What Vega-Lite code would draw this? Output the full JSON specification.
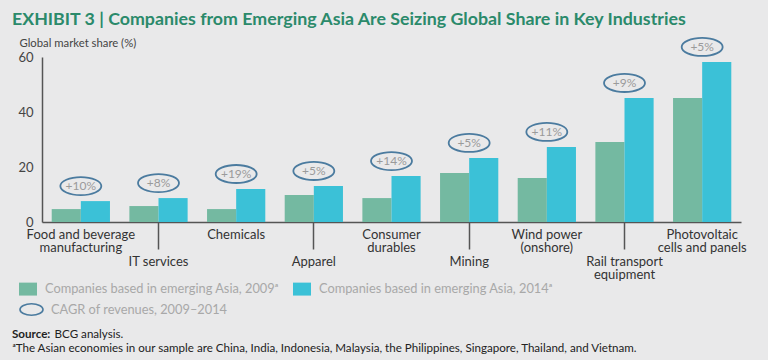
{
  "$schema": "https://vega.github.io/schema/vega-lite/v6.json",
  "width": 699,
  "height": 165,
  "autosize": "none",
  "padding": {"left": 42, "top": 57, "right": 27, "bottom": 138},
  "background": "#e9e9ea",
  "config": {"view": {"stroke": null}, "font": "Lato"},
  "title": {
    "text": "EXHIBIT 3 | Companies from Emerging Asia Are Seizing Global Share in Key Industries",
    "anchor": "start",
    "frame": "group",
    "dx": -30,
    "offset": 6,
    "font": "Lato",
    "fontSize": 17.8,
    "fontWeight": "bold",
    "color": "#2b8a6b"
  },
  "data": {
    "values": [
      {"industry": "Food and beverage manufacturing", "series": "Companies based in emerging Asia, 2009ᵃ", "share": 4.7},
      {"industry": "Food and beverage manufacturing", "series": "Companies based in emerging Asia, 2014ᵃ", "share": 7.6, "cagr": "+10%"},
      {"industry": "IT services", "series": "Companies based in emerging Asia, 2009ᵃ", "share": 5.8},
      {"industry": "IT services", "series": "Companies based in emerging Asia, 2014ᵃ", "share": 8.7, "cagr": "+8%"},
      {"industry": "Chemicals", "series": "Companies based in emerging Asia, 2009ᵃ", "share": 4.7},
      {"industry": "Chemicals", "series": "Companies based in emerging Asia, 2014ᵃ", "share": 12.0, "cagr": "+19%"},
      {"industry": "Apparel", "series": "Companies based in emerging Asia, 2009ᵃ", "share": 9.8},
      {"industry": "Apparel", "series": "Companies based in emerging Asia, 2014ᵃ", "share": 13.1, "cagr": "+5%"},
      {"industry": "Consumer durables", "series": "Companies based in emerging Asia, 2009ᵃ", "share": 8.7},
      {"industry": "Consumer durables", "series": "Companies based in emerging Asia, 2014ᵃ", "share": 16.7, "cagr": "+14%"},
      {"industry": "Mining", "series": "Companies based in emerging Asia, 2009ᵃ", "share": 17.8},
      {"industry": "Mining", "series": "Companies based in emerging Asia, 2014ᵃ", "share": 23.3, "cagr": "+5%"},
      {"industry": "Wind power (onshore)", "series": "Companies based in emerging Asia, 2009ᵃ", "share": 16.0},
      {"industry": "Wind power (onshore)", "series": "Companies based in emerging Asia, 2014ᵃ", "share": 27.3, "cagr": "+11%"},
      {"industry": "Rail transport equipment", "series": "Companies based in emerging Asia, 2009ᵃ", "share": 29.1},
      {"industry": "Rail transport equipment", "series": "Companies based in emerging Asia, 2014ᵃ", "share": 45.1, "cagr": "+9%"},
      {"industry": "Photovoltaic cells and panels", "series": "Companies based in emerging Asia, 2009ᵃ", "share": 45.1},
      {"industry": "Photovoltaic cells and panels", "series": "Companies based in emerging Asia, 2014ᵃ", "share": 58.2, "cagr": "+5%"}
    ]
  },
  "encoding": {
    "x": {
      "field": "industry",
      "type": "nominal",
      "sort": null,
      "scale": {"paddingInner": 0.25, "paddingOuter": 0.125},
      "axis": {
        "title": "ᵃThe Asian economies in our sample are China, India, Indonesia, Malaysia, the Philippines, Singapore, Thailand, and Vietnam.",
        "titleX": -30,
        "titleY": 126,
        "titleAlign": "left",
        "titleBaseline": "middle",
        "titleFont": "Lato",
        "titleFontSize": 11.6,
        "titleFontWeight": "normal",
        "titleColor": "#222222",
        "domainColor": "#555555",
        "domainWidth": 1.5,
        "ticks": true,
        "tickColor": "#555555",
        "tickWidth": 1.5,
        "tickSize": {"condition": {"test": "datum.value == 'IT services' || datum.value == 'Apparel' || datum.value == 'Mining' || datum.value == 'Rail transport equipment'", "value": 27}, "value": 0},
        "labelAngle": 0,
        "labelFontSize": 13,
        "labelColor": "#333333",
        "labelBaseline": "top",
        "labelLineHeight": 13,
        "labelLimit": 300,
        "labelPadding": 6,
        "labelExpr": "datum.value == 'Food and beverage manufacturing' ? ['Food and beverage', 'manufacturing'] : datum.value == 'Consumer durables' ? ['Consumer', 'durables'] : datum.value == 'Wind power (onshore)' ? ['Wind power', '(onshore)'] : datum.value == 'Rail transport equipment' ? ['Rail transport', 'equipment'] : datum.value == 'Photovoltaic cells and panels' ? ['Photovoltaic', 'cells and panels'] : datum.value"
      }
    },
    "y": {
      "field": "share",
      "type": "quantitative",
      "scale": {"domain": [0, 60]},
      "axis": {
        "values": [0, 20, 40, 60],
        "title": "Global market share (%)",
        "titleAngle": 0,
        "titleAlign": "left",
        "titleBaseline": "middle",
        "titleX": -23,
        "titleY": -14,
        "titleFontSize": 11.3,
        "titleFontWeight": "normal",
        "titleColor": "#444444",
        "grid": false,
        "ticks": false,
        "domainColor": "#555555",
        "domainWidth": 1.5,
        "labelFontSize": 13,
        "labelColor": "#444444",
        "labelPadding": 9
      }
    }
  },
  "layer": [
    {
      "mark": {"type": "bar"},
      "encoding": {
        "xOffset": {"field": "series", "type": "nominal", "sort": null, "scale": {"paddingInner": 0, "paddingOuter": 0}},
        "color": {
          "field": "series",
          "type": "nominal",
          "sort": null,
          "scale": {"range": ["#74b9a1", "#3bc1d7"]},
          "legend": {
            "orient": "none",
            "legendX": -23,
            "legendY": 223,
            "direction": "horizontal",
            "title": null,
            "symbolType": "M-1,-0.72H1V0.72H-1Z",
            "symbolSize": 324,
            "symbolStrokeWidth": 0,
            "symbolOpacity": 1,
            "labelFontSize": 12.8,
            "labelColor": "#a8a8a8",
            "labelOffset": 8,
            "labelLimit": 400,
            "columnPadding": 14
          }
        },
        "strokeDash": {
          "datum": "BCG analysis.",
          "scale": {"range": [[1, 0]]},
          "legend": {
            "orient": "none",
            "legendX": -30,
            "legendY": 272,
            "title": "Source:",
            "titleOrient": "left",
            "titleFontSize": 11.6,
            "titleFontWeight": "bold",
            "titleColor": "#222222",
            "titlePadding": 3,
            "symbolSize": 0,
            "symbolOpacity": 0,
            "symbolStrokeWidth": 0,
            "labelOffset": -11,
            "labelFontSize": 11.6,
            "labelColor": "#222222"
          }
        }
      }
    },
    {
      "transform": [{"filter": "isValid(datum.cagr)"}],
      "mark": {
        "type": "point",
        "shape": "M -1 0 A 1 0.44 0 1 0 1 0 A 1 0.44 0 1 0 -1 0 Z",
        "size": 1681,
        "filled": false,
        "strokeWidth": 1.8,
        "opacity": 1,
        "yOffset": -15
      },
      "encoding": {
        "stroke": {
          "datum": "CAGR of revenues, 2009–2014",
          "scale": {"range": ["#4b7b9f"]},
          "legend": {
            "orient": "none",
            "legendX": -23,
            "legendY": 240,
            "title": null,
            "symbolType": "M -1 0 A 1 0.5 0 1 0 1 0 A 1 0.5 0 1 0 -1 0 Z",
            "symbolSize": 529,
            "symbolStrokeWidth": 1.6,
            "symbolFillColor": "transparent",
            "labelFontSize": 12.8,
            "labelColor": "#a8a8a8",
            "labelOffset": 7,
            "labelLimit": 400
          }
        }
      }
    },
    {
      "transform": [{"filter": "isValid(datum.cagr)"}],
      "mark": {"type": "text", "yOffset": -15, "fontSize": 12, "color": "#9a9a9a", "baseline": "middle"},
      "encoding": {"text": {"field": "cagr"}}
    }
  ]
}
